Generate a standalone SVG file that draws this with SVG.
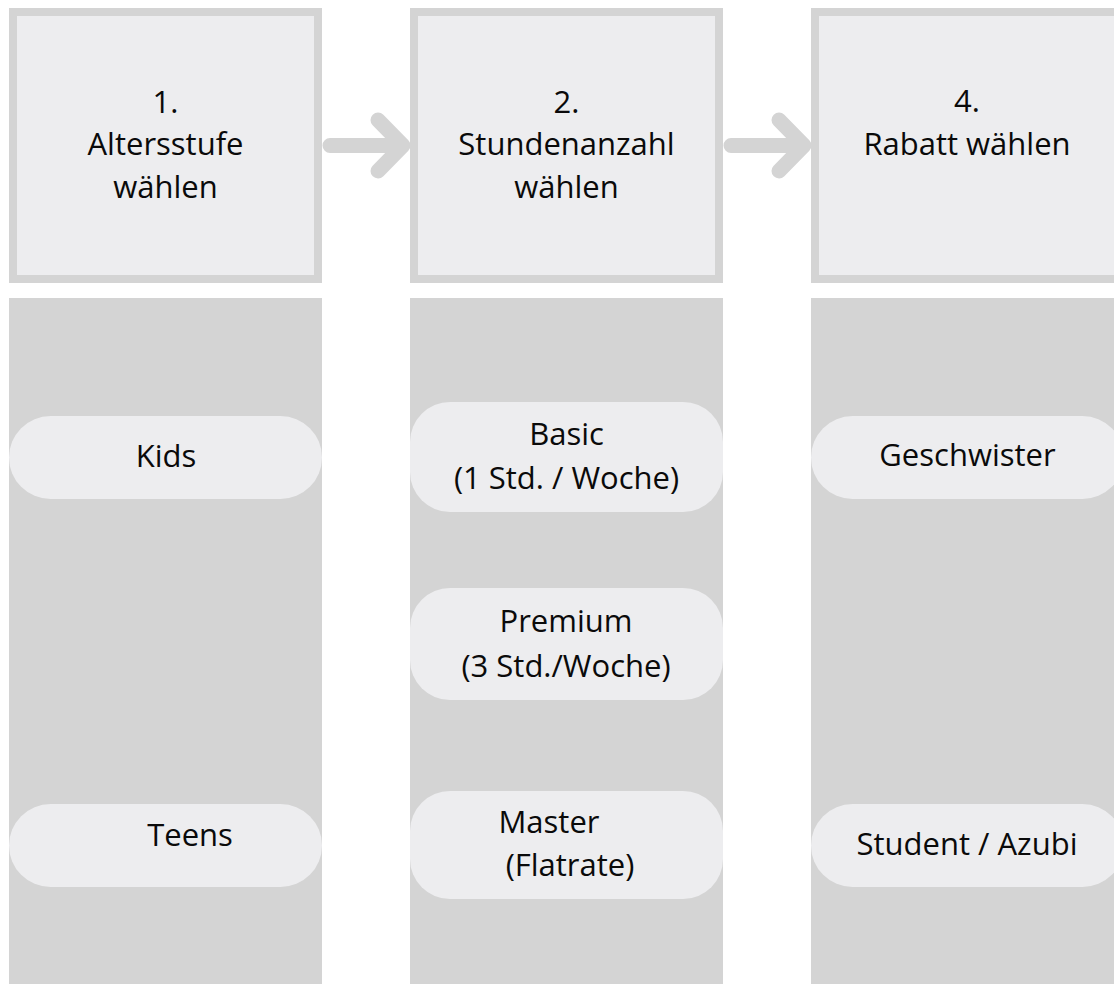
<svg xmlns="http://www.w3.org/2000/svg" width="1114" height="984" viewBox="0 0 1114 984">
<style>
.col{fill:#D4D4D4}
.head{fill:#EDEDEF;stroke:#D4D4D4;stroke-width:8}
.pill{fill:#EDEDEF}
.t{font-family:"Open Sans","Noto Sans",sans-serif;font-size:31px;fill:#0A0A0A;text-anchor:middle}
.arrow{fill:none;stroke:#D4D4D4;stroke-width:15;stroke-linecap:round;stroke-linejoin:round}
</style>
<rect width="1114" height="984" fill="#FFFFFF"/>
<g id="connectors">
<path class="arrow" d="M330,145.5 H402 M378,120 L403,145.5 L378,171"/>
<path class="arrow" d="M731,145.5 H803 M779,120 L804,145.5 L779,171"/>
</g>
<g id="col1">
<rect class="col" x="9" y="298" width="313" height="686"/>
</g>
<g id="col2">
<rect class="col" x="410" y="298" width="313" height="686"/>
</g>
<g id="col3">
<rect class="col" x="811" y="298" width="313" height="686"/>
</g>
<g id="step1">
<rect class="head" x="13" y="12" width="305" height="267"/>
<text class="t" x="165.5" y="113">1.</text>
<text class="t" x="165.5" y="155">Altersstufe</text>
<text class="t" x="165.5" y="198">wählen</text>
</g>
<g id="step2">
<rect class="head" x="414" y="12" width="305" height="267"/>
<text class="t" x="566.5" y="113">2.</text>
<text class="t" x="566.5" y="155">Stundenanzahl</text>
<text class="t" x="566.5" y="198">wählen</text>
</g>
<g id="step4">
<rect class="head" x="815" y="12" width="305" height="267"/>
<text class="t" x="967" y="112">4.</text>
<text class="t" x="967" y="155">Rabatt wählen</text>
</g>
<g id="kids">
<rect class="pill" x="9" y="416" width="313" height="83" rx="41.5"/>
<text class="t" x="166" y="467">Kids</text>
</g>
<g id="teens">
<rect class="pill" x="9" y="804" width="313" height="83" rx="41.5"/>
<text class="t" x="190" y="846">Teens</text>
</g>
<g id="basic">
<rect class="pill" x="410" y="402" width="313" height="110" rx="40"/>
<text class="t" x="566.5" y="445">Basic</text>
<text class="t" x="566.5" y="489">(1 Std. / Woche)</text>
</g>
<g id="premium">
<rect class="pill" x="410" y="588" width="313" height="112" rx="40"/>
<text class="t" x="566" y="632">Premium</text>
<text class="t" x="566" y="677">(3 Std./Woche)</text>
</g>
<g id="master">
<rect class="pill" x="410" y="791" width="313" height="108" rx="40"/>
<text class="t" x="549" y="833">Master</text>
<text class="t" x="570" y="876">(Flatrate)</text>
</g>
<g id="geschwister">
<rect class="pill" x="811" y="416" width="313" height="83" rx="41.5"/>
<text class="t" x="967.5" y="466">Geschwister</text>
</g>
<g id="student">
<rect class="pill" x="811" y="804" width="313" height="83" rx="41.5"/>
<text class="t" x="967" y="855">Student / Azubi</text>
</g>
</svg>
